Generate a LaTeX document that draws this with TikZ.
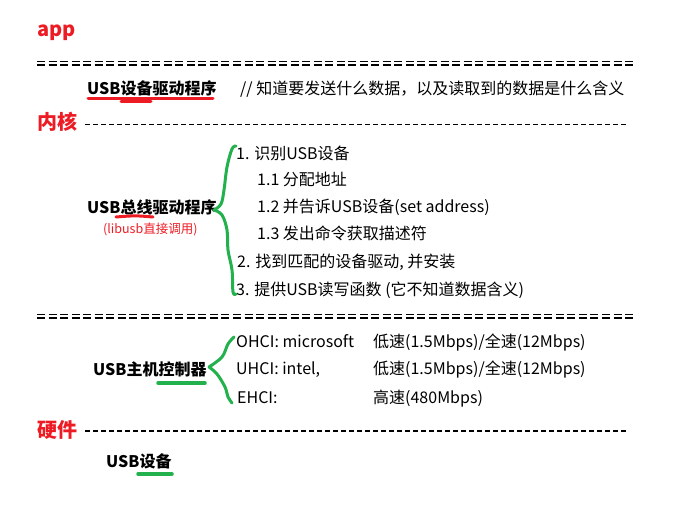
\documentclass[tikz,border=0pt]{standalone}
\usepackage{fontspec}
\setmainfont{Noto Sans CJK SC}
\definecolor{hdrred}{RGB}{237,28,36}
\definecolor{markgreen}{RGB}{34,177,76}
\begin{document}
\begin{tikzpicture}[x=1pt,y=-1pt,
    txt/.style={anchor=base west,inner sep=0pt,font=\fontsize{16}{19}\selectfont},
    title/.style={txt,font=\fontsize{16}{19}\selectfont\bfseries},
    layer/.style={anchor=base west,inner sep=0pt,text=hdrred,font=\fontsize{20}{24}\selectfont\bfseries},
    eqline/.style={line width=1.2pt,dash pattern=on 8pt off 3.53pt},
    dashline/.style={line width=1.1pt,dash pattern=on 5pt off 3pt},
    brace/.style={markgreen,line width=3pt,line cap=round,line join=round},
    uline/.style={line width=3pt,line cap=round}]
    \useasboundingbox (0,0) rectangle (682,510);
    % layers
    \node[layer] (app) at (37,37) {app};
    \node[layer] (kernel) at (37,129.6) {内核};
    \node[layer] (hw) at (37,437.6) {硬件};
    \foreach \y in {61.7,314.7} {
      \draw[eqline] (37,\y) -- ++(596,0);
      \draw[eqline] (37,\y+3.3) -- ++(596,0);
    }
    \draw[dashline] (85,124.3) -- (628,124.3);
    \draw[dashline] (85,431) -- (628,431);
    % device driver
    \node[title] (devdrv) at (87,95) {USB设备驱动程序};
    \node[txt] (devnote) at (240,95) {// 知道要发送什么数据，以及读取到的数据是什么含义};
    \draw[uline,hdrred] (88,98.5) -- (213,98.5);
    \draw[uline,hdrred] (121,101.5) -- (151,101.5);
    % bus driver
    \node[title] (busdrv) at (87,214) {USB总线驱动程序};
    \node[txt,text=hdrred,font=\fontsize{12.5}{15}\selectfont] (libusb) at (103,234) {(libusb直接调用)};
    \draw[uline,hdrred] (116,217) .. controls (135,215.5) .. (153,217);
    \node[txt] (s1) at (236,160) {1. 识别USB设备};
    \node[txt] (s11) at (257,186) {1.1 分配地址};
    \node[txt] (s12) at (257,213) {1.2 并告诉USB设备(set address)};
    \node[txt] (s13) at (257,240) {1.3 发出命令获取描述符};
    \node[txt] (s2) at (237,268) {2. 找到匹配的设备驱动, 并安装};
    \node[txt] (s3) at (236,295) {3. 提供USB读写函数 (它不知道数据含义)};
    \draw[brace] plot[smooth,tension=0.6] coordinates {(236,146) (232,149) (227,167) (224,190) (221,204) (214,210)};
    \draw[brace] plot[smooth,tension=0.6] coordinates {(214,210) (222,215) (227,230) (228,250) (232,270) (233,292) (236,294)};
    % host controller
    \node[title] (hcd) at (93,375) {USB主机控制器};
    \node[txt] (ohci) at (236,347) {OHCI: microsoft};
    \node[txt] (uhci) at (236,374) {UHCI: intel,};
    \node[txt] (ehci) at (237,403) {EHCI:};
    \node[txt] (ohcisp) at (373,347) {低速(1.5Mbps)/全速(12Mbps)};
    \node[txt] (uhcisp) at (373,374) {低速(1.5Mbps)/全速(12Mbps)};
    \node[txt] (ehcisp) at (373,403) {高速(480Mbps)};
    \draw[uline,markgreen,line width=3.5pt] (158,383) -- (205,383);
    \draw[brace] plot[smooth,tension=0.6] coordinates {(234,337) (228,344) (222,357) (209,367)};
    \draw[brace] plot[smooth,tension=0.6] coordinates {(209,367) (217,374) (225,387) (228,397) (232,403)};
    % hardware
    \node[title] (usbdev) at (106,467) {USB设备};
    \draw[uline,markgreen,line width=3.5pt] (138,474) -- (172,474);
\end{tikzpicture}
\end{document}
